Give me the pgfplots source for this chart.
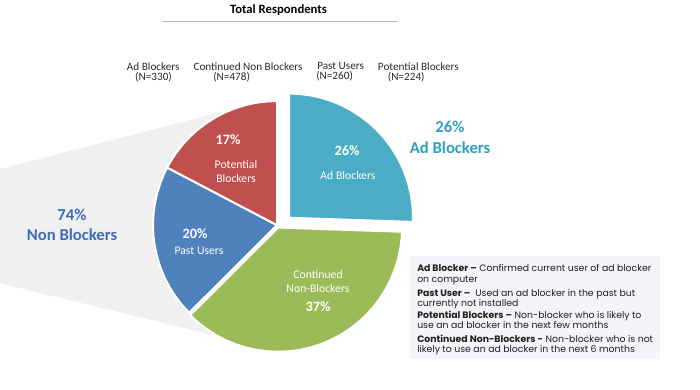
\documentclass[border=0pt]{standalone}
\usepackage{fontspec}
\setmainfont{Carlito}
\newfontfamily\gothic{Poppins}
\usepackage{pgfplots}
\pgfplotsset{compat=1.18}
\usepgfplotslibrary{polar}
\definecolor{cAd}{HTML}{4BACC6}
\definecolor{cRed}{HTML}{C0504D}
\definecolor{cBlue}{HTML}{4F81BD}
\definecolor{cGreen}{HTML}{9BBB59}
\definecolor{tTeal}{HTML}{2F9EC0}
\definecolor{tBlue}{HTML}{3E6DB5}
\definecolor{greyband}{HTML}{F0F0F0}
\definecolor{boxbg}{HTML}{F3F5F9}
\definecolor{hdr}{HTML}{2A2A2A}
\begin{document}
\begin{tikzpicture}
\begin{axis}[width=525pt, height=291pt, scale only axis,
  xmin=-277, xmax=423, ymin=-164, ymax=224,
  hide axis, clip=false]
\path (rel axis cs:0,0) rectangle (rel axis cs:1,1);
% grey funnel
\addplot[fill=greyband, draw=none] coordinates {(-277,56) (-42.4,116.5) (0,0) (-52.4,-112.4) (-277,-58)};
% wedges (angle, radius) from N = 330, 478, 260, 224
\addplot[data cs=polar, fill=cAd, draw=white, line width=1.5pt, line join=round, xshift=9pt, yshift=5.6pt]
 coordinates {(0,0) (90,124) (85,124) (80,124) (75,124) (70,124) (65,124) (60,124) (55,124) (50,124) (45,124) (40,124) (35,124) (30,124) (25,124) (20,124) (15,124) (10,124) (5,124) (0,124) (-1.95,124) (0,0)};
\addplot[data cs=polar, fill=cGreen, draw=white, line width=1.5pt, line join=round, xshift=0.8pt, yshift=-1.8pt]
 coordinates {(0,0) (-1.95,124) (-5,124) (-10,124) (-15,124) (-20,124) (-25,124) (-30,124) (-35,124) (-40,124) (-45,124) (-50,124) (-55,124) (-60,124) (-65,124) (-70,124) (-75,124) (-80,124) (-85,124) (-90,124) (-95,124) (-100,124) (-105,124) (-110,124) (-115,124) (-120,124) (-125,124) (-130,124) (-135,124) (-135.14,124) (0,0)};
\addplot[data cs=polar, fill=cBlue, draw=white, line width=1.5pt, line join=round]
 coordinates {(0,0) (224.86,124) (220,124) (215,124) (210,124) (205,124) (200,124) (195,124) (190,124) (185,124) (180,124) (175,124) (170,124) (165,124) (160,124) (155,124) (152.36,124) (0,0)};
\addplot[data cs=polar, fill=cRed, draw=white, line width=1.5pt, line join=round]
 coordinates {(0,0) (152.36,124) (150,124) (145,124) (140,124) (135,124) (130,124) (125,124) (120,124) (115,124) (110,124) (105,124) (100,124) (95,124) (90,124) (0,0)};
% definition box
\addplot[fill=boxbg, draw=none] coordinates {(133,-31) (383,-31) (383,-134) (133,-134)};
% title
\node[font=\bfseries\fontsize{9.5}{11}\selectfont, text=black] at (axis cs:1.5,215) {Total Respondents};
\addplot[color=gray!55, line width=0.5pt] coordinates {(-114,204) (120,204)};
% header
\begin{scope}[every node/.style={font=\fontsize{8.4}{7.6}\selectfont, text=hdr, inner sep=0pt, anchor=north west, align=left}]
\node at (axis cs:-150.3,162.8) {Ad Blockers\\\hspace*{6.2pt}(N=330)};
\node at (axis cs:-83.7,162.8) {Continued Non Blockers\\\hspace*{14.8pt}(N=478)};
\node at (axis cs:39,162.8) {\hspace*{0.75pt}Past Users\\(N=260)};
\node at (axis cs:100.7,162.8) {Potential Blockers\\\hspace*{7.5pt}(N=224)};
\end{scope}
% wedge labels
\begin{scope}[every node/.style={text=white, inner sep=0pt, font=\fontsize{8.8}{10}\selectfont}]
\node[font=\bfseries\fontsize{10.7}{12}\selectfont] at (axis cs:70,74) {26\%};
\node at (axis cs:71,50) {Ad Blockers};
\node[font=\bfseries\fontsize{10.7}{12}\selectfont] at (axis cs:-49,85) {17\%};
\node at (axis cs:-41,61) {Potential};
\node at (axis cs:-41,47) {Blockers};
\node[font=\bfseries\fontsize{10.7}{12}\selectfont] at (axis cs:-82,-8) {20\%};
\node at (axis cs:-78,-26) {Past Users};
\node at (axis cs:41,-49) {Continued};
\node at (axis cs:41,-63) {Non-Blockers};
\node[font=\bfseries\fontsize{10.7}{12}\selectfont] at (axis cs:41,-81) {37\%};
\end{scope}
% outside labels
\begin{scope}[every node/.style={inner sep=0pt, font=\bfseries\fontsize{12.5}{14}\selectfont}]
\node[text=tTeal] at (axis cs:173,98) {26\%};
\node[text=tTeal] at (axis cs:173,77) {Ad Blockers};
\node[text=tBlue] at (axis cs:-205,10) {74\%};
\node[text=tBlue] at (axis cs:-205,-10) {Non Blockers};
\end{scope}
% definitions
\begin{scope}[every node/.style={anchor=north west, align=left, inner sep=0pt, text=black!88, font=\gothic\fontsize{7}{7.95}\selectfont}]
\node at (axis cs:140,-39.2) {\textbf{Ad Blocker –} Confirmed current user of ad blocker\\on computer};
\node at (axis cs:140,-63.5) {\textbf{Past User –}\ \ Used an ad blocker in the past but\\currently not installed};
\node at (axis cs:140,-85.2) {\textbf{Potential Blockers –} Non-blocker who is likely to\\use an ad blocker in the next few months};
\node at (axis cs:140,-109.2) {\textbf{Continued Non-Blockers -} Non-blocker who is not\\likely to use an ad blocker in the next 6 months};
\end{scope}
\end{axis}
\end{tikzpicture}
\end{document}
